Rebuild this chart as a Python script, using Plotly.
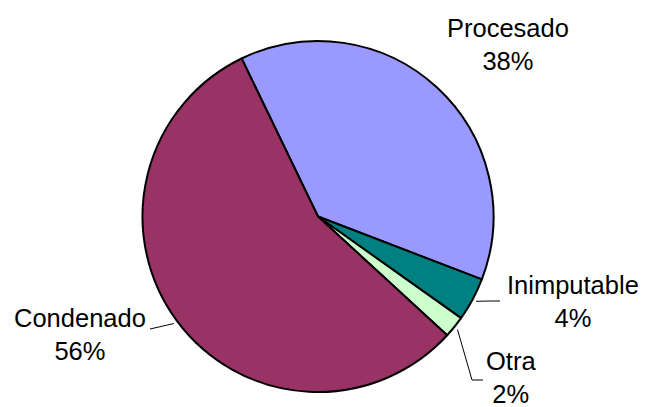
import math
import plotly.graph_objects as go

labels = ["Procesado", "Inimputable", "Otra", "Condenado"]
values = [38, 4, 2, 56]
colors = ["#9999FF", "#008080", "#CCFFCC", "#993366"]

W, H = 648, 407
cx, cy, r = 318.0, 216.5, 175.5
start_deg = -25.8  # first slice starts 25.8 deg counter-clockwise from 12 o'clock

# label block centres (pixels) and leader-line elbows
label_pos = {
    "Procesado": (507.5, 44.5),
    "Inimputable": (573.0, 301.0),
    "Otra": (511.0, 377.0),
    "Condenado": (79.5, 334.5),
}
leaders = {
    "Inimputable": [(490, 301), (500, 301)],
    "Otra": [(472, 380), (483, 380)],
    "Condenado": [(150, 329)],
}

def px(x):
    return x / W

def py(y):
    return 1 - y / H

fig = go.Figure()
fig.add_trace(go.Pie(
    labels=labels, values=values, sort=False, direction="clockwise",
    rotation=start_deg,
    marker=dict(colors=colors, line=dict(color="black", width=2)),
    textinfo="none", hoverinfo="label+percent", showlegend=False,
    domain=dict(x=[px(cx - r), px(cx + r)], y=[py(cy + r), py(cy - r)]),
))

total = sum(values)
cum = 0.0
shapes = []
annotations = []
for lab, v in zip(labels, values):
    mid = start_deg + (cum + v / 2) / total * 360
    cum += v
    pct = round(v / total * 100)
    tx, ty = label_pos[lab]
    annotations.append(dict(
        x=px(tx), y=py(ty), xref="paper", yref="paper",
        text=f"{lab}<br>{pct}%", showarrow=False,
        xanchor="center", yanchor="middle",
        font=dict(family="Liberation Sans, Arial, sans-serif", size=25.5, color="black"),
    ))
    if lab in leaders:
        a = math.radians(mid)
        sx = cx + (r + 4) * math.sin(a)
        sy = cy - (r + 4) * math.cos(a)
        pts = [(sx, sy)] + leaders[lab]
        path = "M " + " L ".join(f"{px(x)},{py(y)}" for x, y in pts)
        shapes.append(dict(type="path", path=path, xref="paper", yref="paper",
                           line=dict(color="black", width=1)))

fig.update_layout(
    width=W, height=H, margin=dict(l=0, r=0, t=0, b=0),
    paper_bgcolor="white", plot_bgcolor="white",
    shapes=shapes, annotations=annotations,
)
fig.write_html("out.html", config={"displayModeBar": False},
               post_script="document.body.style.margin='0';document.body.style.padding='0';")
